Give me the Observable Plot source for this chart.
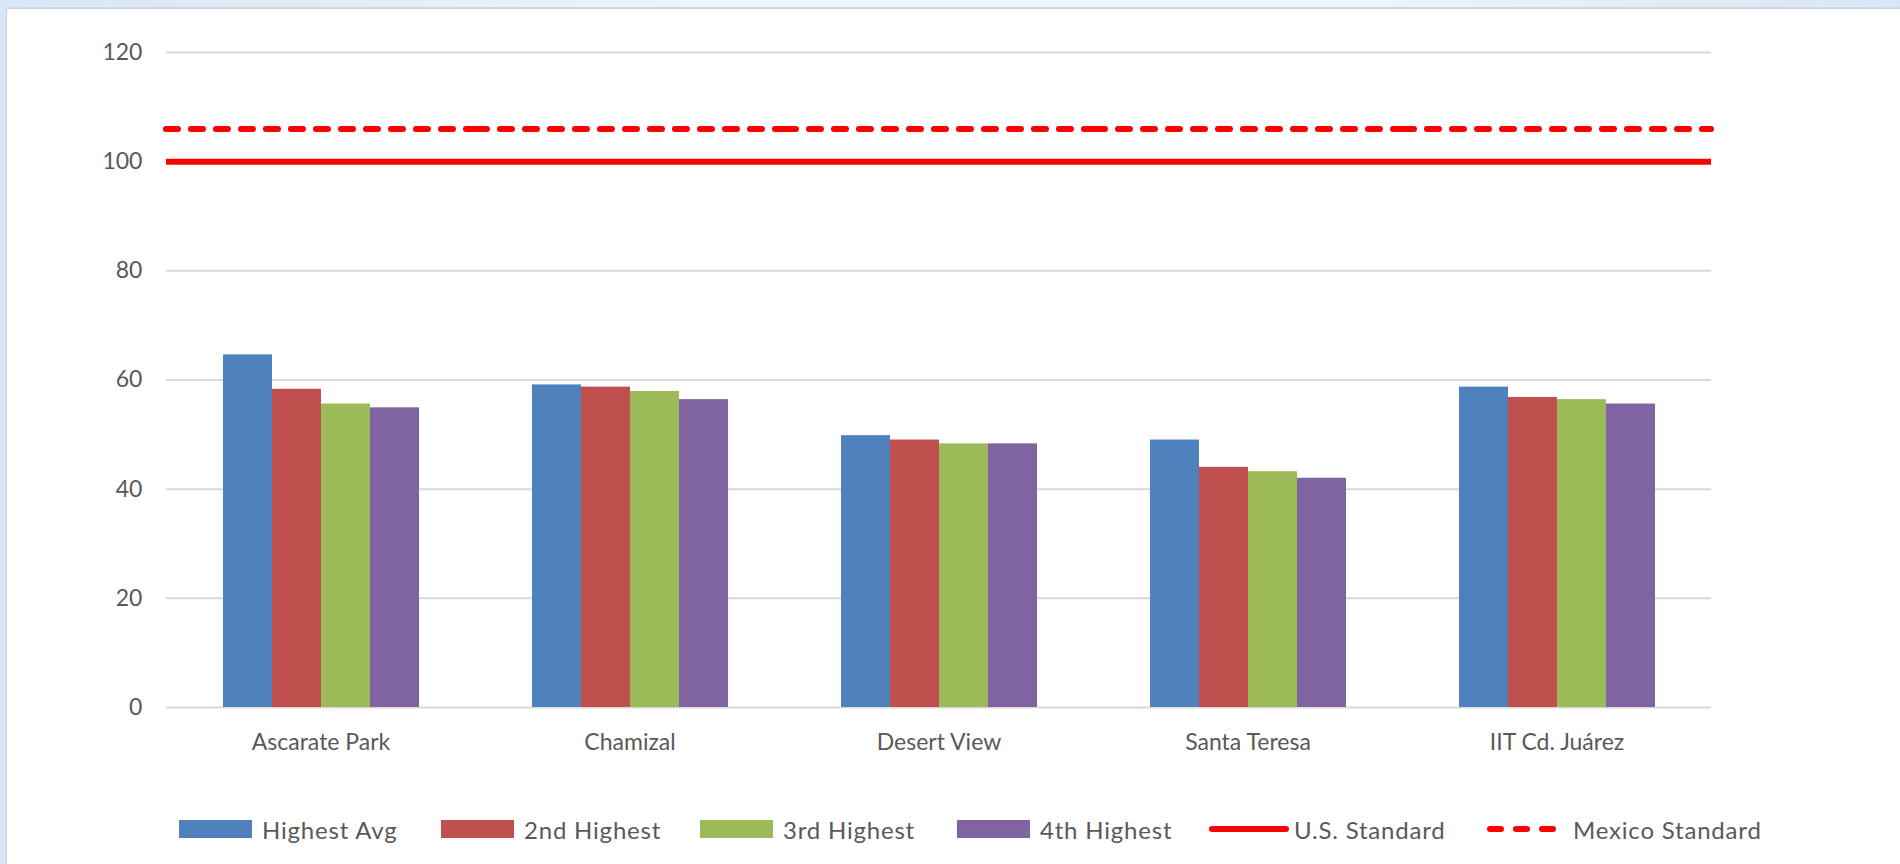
<!DOCTYPE html>
<html>
<head>
<meta charset="utf-8">
<script src="https://cdn.jsdelivr.net/npm/d3@7"></script>
<script src="https://cdn.jsdelivr.net/npm/@observablehq/plot@0.6"></script>
<style>
  html, body { margin: 0; padding: 0; overflow: hidden; width: 1900px; height: 864px; }
  body { background: linear-gradient(90deg, #d6e8f8 0%, #eef5fc 40%, #eef5fc 70%, #d6e8f8 100%); position: relative; font-family: Lato, sans-serif; }
  #frame { position: absolute; left: 6px; top: 7px; right: 0; bottom: 0; background: #fff; border-top: 2px solid #d6d6d6; border-left: 1px solid #d0d0d0; }
  #chart { position: absolute; left: 0; top: 0; }
  #legend { position: absolute; left: 0; top: 814px; width: 1900px; height: 30px; font-size: 24px; letter-spacing: 0.8px; color: #595959; font-family: Lato, sans-serif; }
  .item { position: absolute; top: 0; height: 30px; display: flex; align-items: center; white-space: nowrap; }
  .item svg { display: block; }
</style>
</head>
<body>
<div id="frame"></div>
<div id="chart"></div>
<div id="legend"></div>
<script>
const sites = ["Ascarate Park", "Chamizal", "Desert View", "Santa Teresa", "IIT Cd. Juárez"];
const seriesNames = ["Highest Avg", "2nd Highest", "3rd Highest", "4th Highest"];
const highestAvg    = [64.6, 59.1, 49.8, 49.0, 58.7];
const secondHighest = [58.3, 58.7, 49.0, 44.0, 56.8];
const thirdHighest  = [55.6, 57.9, 48.3, 43.2, 56.4];
const fourthHighest = [54.9, 56.4, 48.3, 42.0, 55.6];
const usStandard = [100];
const mexicoStandard = [106];
const yTicks = [0, 20, 40, 60, 80, 100, 120];
const barColors = ["#4f81bd", "#c0504d", "#9bbb59", "#8064a2"];
const lineNames = ["U.S. Standard", "Mexico Standard"];

const seriesValues = [highestAvg, secondHighest, thirdHighest, fourthHighest];
const data = sites.flatMap((site, i) =>
  seriesNames.map((s, j) => ({site, series: s, value: seriesValues[j][i]}))
);

const W = 1900, ML = 165, MR = 189;
const padInner = 0.356, padOuter = 0.178;
const step = (W - ML - MR) / sites.length;
const halfGap = step * padInner / 2; // extends rules across facet gaps

const perSite = v => sites.map(s => ({site: s, v}));

const chart = Plot.plot({
  width: W,
  height: 780,
  marginLeft: ML,
  marginRight: MR,
  marginTop: 52,
  marginBottom: 73,
  style: {fontFamily: "Lato, sans-serif", fontSize: "23px", color: "#595959", background: "transparent", overflow: "visible"},
  y: {domain: [0, 120], axis: null},
  fx: {domain: sites, paddingInner: padInner, paddingOuter: padOuter, label: null, axis: "bottom", tickSize: 0, tickPadding: 26},
  x: {domain: seriesNames, axis: null, paddingInner: 0, paddingOuter: 0},
  color: {domain: seriesNames, range: barColors},
  marks: [
    ...yTicks.map(t => Plot.ruleY(perSite(t), {fx: "site", y: "v", stroke: "#d9d9d9", strokeWidth: 2, insetLeft: -halfGap, insetRight: -halfGap})),
    Plot.text(yTicks.map(t => ({site: sites[0], v: t})), {fx: "site", y: "v", text: d => String(d.v), frameAnchor: "left", textAnchor: "end", dx: -(halfGap + 24), fill: "#595959"}),
    Plot.barY(data, {fx: "site", x: "series", y: "value", fill: "series"}),
    Plot.ruleY(perSite(mexicoStandard[0]), {fx: "site", y: "v", stroke: "#ff0000", strokeWidth: 6, strokeDasharray: "12,13", strokeLinecap: "round", insetLeft: -halfGap, insetRight: -halfGap}),
    Plot.ruleY(perSite(usStandard[0]), {fx: "site", y: "v", stroke: "#ff0000", strokeWidth: 6, insetLeft: -halfGap, insetRight: -halfGap})
  ]
});
document.getElementById("chart").appendChild(chart);

// Legend
const legend = document.getElementById("legend");
const legendLeft = [179, 441, 700, 957, 1209, 1486];
seriesNames.forEach((name, i) => {
  const item = document.createElement("div");
  item.className = "item";
  item.style.left = legendLeft[i] + "px";
  item.innerHTML = `<svg width="73" height="18" style="margin-right:10px"><rect width="73" height="18" fill="${barColors[i]}"></rect></svg><span>${name}</span>`;
  legend.appendChild(item);
});
lineNames.forEach((name, i) => {
  const item = document.createElement("div");
  item.className = "item";
  item.style.left = legendLeft[4 + i] + "px";
  const svg = i === 0
    ? `<svg width="80" height="18" style="margin-right:5px"><line x1="3" x2="77" y1="9" y2="9" stroke="#ff0000" stroke-width="6" stroke-linecap="round"></line></svg>`
    : `<svg width="72" height="18" style="margin-right:15px"><line x1="4" x2="68" y1="9" y2="9" stroke="#ff0000" stroke-width="6" stroke-linecap="round" stroke-dasharray="11,15"></line></svg>`;
  item.innerHTML = svg + `<span>${name}</span>`;
  legend.appendChild(item);
});
</script>
</body>
</html>
